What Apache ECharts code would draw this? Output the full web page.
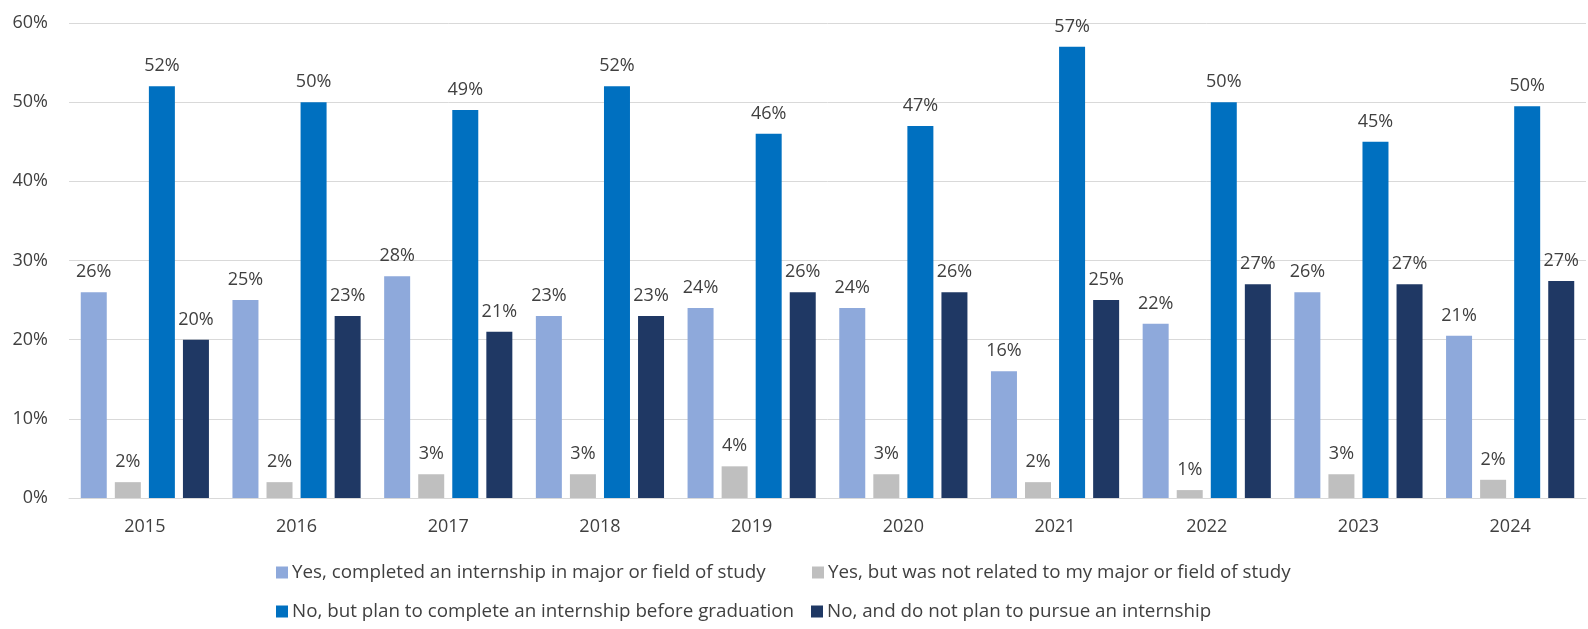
<!DOCTYPE html>
<html>
<head>
<meta charset="utf-8">
<title>Internship status by year</title>
<script src="https://cdn.jsdelivr.net/npm/echarts@6/dist/echarts.min.js"></script>
<style>
  html, body { margin: 0; padding: 0; background: #fff; }
  #chart { width: 1588px; height: 629px; }
</style>
</head>
<body>
<div id="chart"></div>
<script>
// categories (x axis)
var years = ['2015', '2016', '2017', '2018', '2019', '2020', '2021', '2022', '2023', '2024'];

// series names
var names = [
  'Yes, completed an internship in major or field of study',
  'Yes, but was not related to my major or field of study',
  'No, but plan to complete an internship before graduation',
  'No, and do not plan to pursue an internship'
];

// values in percent
var inMajor = [26, 25, 28, 23, 24, 24, 16, 22, 26, 20.5];
var notRelated = [2, 2, 3, 3, 4, 3, 2, 1, 3, 2.3];
var planTo = [52, 50, 49, 52, 46, 47, 57, 50, 45, 49.5];
var noPlan = [20, 23, 21, 23, 26, 26, 25, 27, 27, 27.4];

var colors = ['#8EA9DB', '#BFBFBF', '#0070C0', '#1F3864'];
var font = '"Open Sans", "Liberation Sans", sans-serif';
var textColor = '#404040';

var myChart = echarts.init(document.getElementById('chart'));

function makeSeries(i, data) {
  return {
    name: names[i],
    type: 'bar',
    data: data,
    barWidth: 26,
    barGap: '31%',
    itemStyle: { color: colors[i] },
    label: {
      show: true,
      position: 'top',
      distance: 11,
      color: textColor,
      fontFamily: font,
      fontSize: 18,
      formatter: function (p) { return Math.round(p.value) + '%'; }
    }
  };
}

// one legend per item so that the rows line up like the original
function makeLegend(i, left, top) {
  return {
    data: [names[i]],
    left: left,
    top: top,
    itemWidth: 12,
    itemHeight: 12,
    itemGap: 0,
    icon: 'rect',
    padding: 0,
    textStyle: { color: textColor, fontFamily: font, fontSize: 18.8, padding: [0, 0, 0, -1] }
  };
}

var option = {
  animation: false,
  backgroundColor: '#fff',
  grid: { left: 69, right: 2, top: 23, bottom: 131 },
  legend: [
    makeLegend(0, 276, 563),
    makeLegend(1, 812, 563),
    makeLegend(2, 276, 602),
    makeLegend(3, 811, 602)
  ],
  xAxis: {
    type: 'category',
    data: years,
    axisLine: { lineStyle: { color: '#D9D9D9', width: 1 } },
    axisTick: { show: false },
    axisLabel: { color: textColor, fontFamily: font, fontSize: 18, margin: 20 }
  },
  yAxis: {
    type: 'value',
    min: 0,
    max: 60,
    interval: 10,
    axisLine: { show: false },
    axisTick: { show: false },
    splitLine: { lineStyle: { color: '#D9D9D9', width: 1 } },
    axisLabel: { color: textColor, fontFamily: font, fontSize: 18, margin: 21, formatter: '{value}%' }
  },
  series: [
    makeSeries(0, inMajor),
    makeSeries(1, notRelated),
    makeSeries(2, planTo),
    makeSeries(3, noPlan)
  ]
};

myChart.setOption(option);
</script>
</body>
</html>
